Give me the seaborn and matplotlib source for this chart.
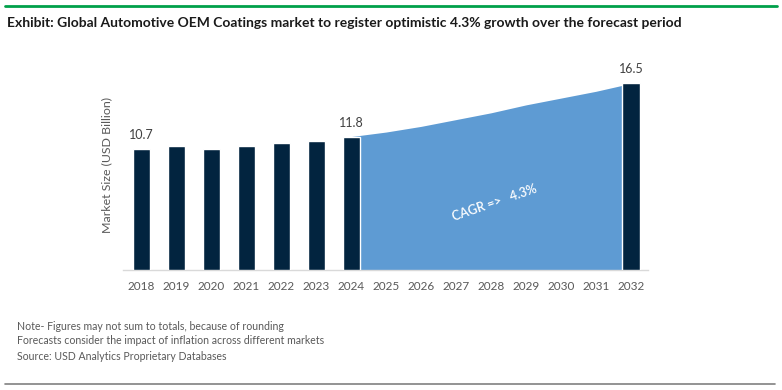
import numpy as np
import pandas as pd
import matplotlib
matplotlib.use("Agg")
import matplotlib.pyplot as plt
import seaborn as sns
from matplotlib.lines import Line2D

# Chart data
years = ["2018", "2019", "2020", "2021", "2022", "2023", "2024",
         "2025", "2026", "2027", "2028", "2029", "2030", "2031", "2032"]
bar_years = ["2018", "2019", "2020", "2021", "2022", "2023", "2024", "2032"]
bar_values = [10.7, 11.0, 10.7, 11.0, 11.2, 11.4, 11.8, 16.5]
forecast_years = ["2024", "2025", "2026", "2027", "2028", "2029", "2030", "2031", "2032"]
forecast_values = [11.8, 12.2, 12.7, 13.3, 13.9, 14.6, 15.2, 15.8, 16.5]
labelled = {"2018": "10.7", "2024": "11.8", "2032": "16.5"}

title = "Exhibit: Global Automotive OEM Coatings market to register optimistic 4.3% growth over the forecast period"
notes = ["Note- Figures may not sum to totals, because of rounding",
         "Forecasts consider the impact of inflation across different markets",
         "Source: USD Analytics Proprietary Databases"]

NAVY = "#02243F"
BLUE = "#5E9BD3"
GREY_TXT = "#595959"

sns.set_theme(style="white")
plt.rcParams['font.family'] = ['Lato', 'DejaVu Sans']

fig = plt.figure(figsize=(7.82, 3.90), dpi=100)
ax = fig.add_axes([123 / 782, 120 / 390, 525 / 782, 210 / 390])

df = pd.DataFrame({"year": bar_years, "value": bar_values})

# forecast area behind the bars
pos = [years.index(y) for y in forecast_years]
ax.fill_between(pos, 0, forecast_values, color=BLUE, lw=0, zorder=1)

sns.barplot(data=df, x="year", y="value", order=years, color=NAVY,
            width=0.5, saturation=1, ax=ax, zorder=3)

for y, txt in labelled.items():
    i = years.index(y)
    v = bar_values[bar_years.index(y)]
    ax.text(i, v + 0.7, txt, ha="center", va="bottom", fontsize=9, color="#404040")

ax.text(10.1, 5.9, "CAGR =>   4.3%", color="white", fontsize=9, fontweight="semibold",
        rotation=19, ha="center", va="center", zorder=4)

ax.set_xlim(-0.53, 14.49)
ax.set_ylim(0, 210 / 11.31)
ax.set_yticks([])
ax.set_xlabel("")
ax.set_ylabel("Market Size (USD Billion)", fontsize=8.9, color=GREY_TXT, labelpad=8)
ax.tick_params(axis="x", labelsize=8.5, colors=GREY_TXT, length=0, pad=8)
for s in ["top", "right", "left"]:
    ax.spines[s].set_visible(False)
ax.spines["bottom"].set_color("#D9D9D9")
ax.spines["bottom"].set_linewidth(1)

# header / footer decorations
fig.add_artist(Line2D([5 / 782, 777 / 782], [1 - 5.5 / 390] * 2, color="#00A04A", lw=2))
fig.add_artist(Line2D([5 / 782, 775 / 782], [1 - 384 / 390] * 2, color="#808080", lw=1.2))
fig.text(7 / 782, 1 - 23 / 390, title, fontsize=10, fontweight="bold", color="#1a1a1a",
         ha="left", va="center")

for k, line in enumerate(notes):
    fig.text(17 / 782, 1 - (326 + 15 * k) / 390, line, fontsize=7.6, color=GREY_TXT,
             ha="left", va="center")

fig.savefig("out.png", dpi=100)
